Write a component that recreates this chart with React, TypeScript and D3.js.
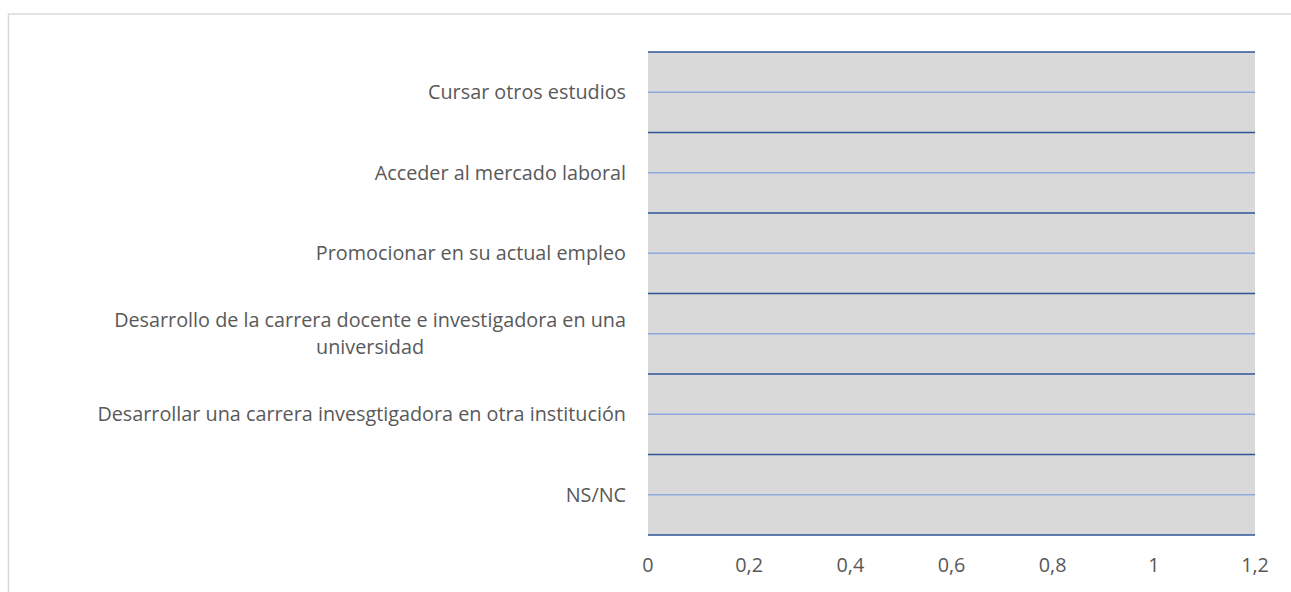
import React, { useEffect, useRef } from "react";
import * as d3 from "d3";

const categories: string[] = [
  "Cursar otros estudios",
  "Acceder al mercado laboral",
  "Promocionar en su actual empleo",
  "Desarrollo de la carrera docente e investigadora en una universidad",
  "Desarrollar una carrera invesgtigadora en otra institución",
  "NS/NC",
];
const values: number[] = [0, 0, 0, 0, 0, 0];
const xTicks: number[] = [0, 0.2, 0.4, 0.6, 0.8, 1, 1.2];
const xDomain: [number, number] = [0, 1.2];

const W = 1291;
const H = 592;
const FONT = "'Open Sans', Lato, sans-serif";
const FS = 19.8;
const TEXT = "#595959";

export default function App() {
  const ref = useRef<SVGSVGElement | null>(null);

  useEffect(() => {
    const svg = d3.select(ref.current);
    svg.selectAll("*").remove();

    const left = 648, right = 1255, top = 52, bottom = 535;
    const x = d3.scaleLinear().domain(xDomain).range([left, right]);
    const y = d3.scaleBand<string>().domain(categories).range([top, bottom]).padding(0);

    // chart area border
    svg.append("rect")
      .attr("x", 8.5).attr("y", 14).attr("width", 1400).attr("height", 800)
      .attr("fill", "#fff").attr("stroke", "#d9d9d9").attr("stroke-width", 1.5);

    // plot area
    svg.append("rect")
      .attr("x", left).attr("y", top).attr("width", right - left).attr("height", bottom - top)
      .attr("fill", "#d9d9d9");

    // minor gridlines (category centers)
    svg.append("g").selectAll("line").data(categories).join("line")
      .attr("x1", left).attr("x2", right)
      .attr("y1", d => (y(d) as number) + y.bandwidth() / 2)
      .attr("y2", d => (y(d) as number) + y.bandwidth() / 2)
      .attr("stroke", "#8eaadb").attr("stroke-width", 1.5);

    // major gridlines (category boundaries)
    const bounds = categories.map(d => y(d) as number).concat([bottom]);
    svg.append("g").selectAll("line").data(bounds).join("line")
      .attr("x1", left).attr("x2", right)
      .attr("y1", d => d).attr("y2", d => d)
      .attr("stroke", "#2f5597").attr("stroke-width", 1.5);

    // bars (all zero)
    svg.append("g").selectAll("rect").data(values).join("rect")
      .attr("x", x(0))
      .attr("y", (_, i) => (y(categories[i]) as number) + y.bandwidth() * 0.2)
      .attr("width", v => x(v) - x(0))
      .attr("height", y.bandwidth() * 0.6)
      .attr("fill", "#4472c4");

    // x tick labels
    const fmt = (v: number) => String(v).replace(".", ",");
    svg.append("g").selectAll("text").data(xTicks).join("text")
      .attr("x", d => x(d)).attr("y", 565).attr("dy", "0.35em")
      .attr("text-anchor", "middle")
      .attr("font-family", FONT).attr("font-size", FS).attr("fill", TEXT)
      .text(d => fmt(d));

    // category labels with wrapping
    const maxW = 550;
    const labelRight = 626;
    const g = svg.append("g");
    categories.forEach(cat => {
      const cy = (y(cat) as number) + y.bandwidth() / 2;
      const words = cat.split(" ");
      const measure = g.append("text")
        .attr("font-family", FONT).attr("font-size", FS);
      const lines: string[] = [];
      let cur: string[] = [];
      words.forEach(w => {
        const test = [...cur, w].join(" ");
        measure.text(test);
        const len = (measure.node() as SVGTextElement).getComputedTextLength();
        if (len > maxW && cur.length) {
          lines.push(cur.join(" "));
          cur = [w];
        } else cur.push(w);
      });
      lines.push(cur.join(" "));
      const widths = lines.map(l => {
        measure.text(l);
        return (measure.node() as SVGTextElement).getComputedTextLength();
      });
      measure.remove();
      const lh = 27;
      const blockW = Math.max(...widths);
      const centerX = labelRight - blockW / 2;
      lines.forEach((l, i) => {
        g.append("text")
          .attr("font-family", FONT).attr("font-size", FS).attr("fill", TEXT)
          .attr("x", centerX)
          .attr("y", cy + (i - (lines.length - 1) / 2) * lh)
          .attr("dy", "0.35em")
          .attr("text-anchor", "middle")
          .text(l);
      });
    });
  }, []);

  return (
    <div style={{ position: "absolute", left: 0, top: 0 }}>
      <svg ref={ref} width={W} height={H} style={{ display: "block" }} />
    </div>
  );
}
